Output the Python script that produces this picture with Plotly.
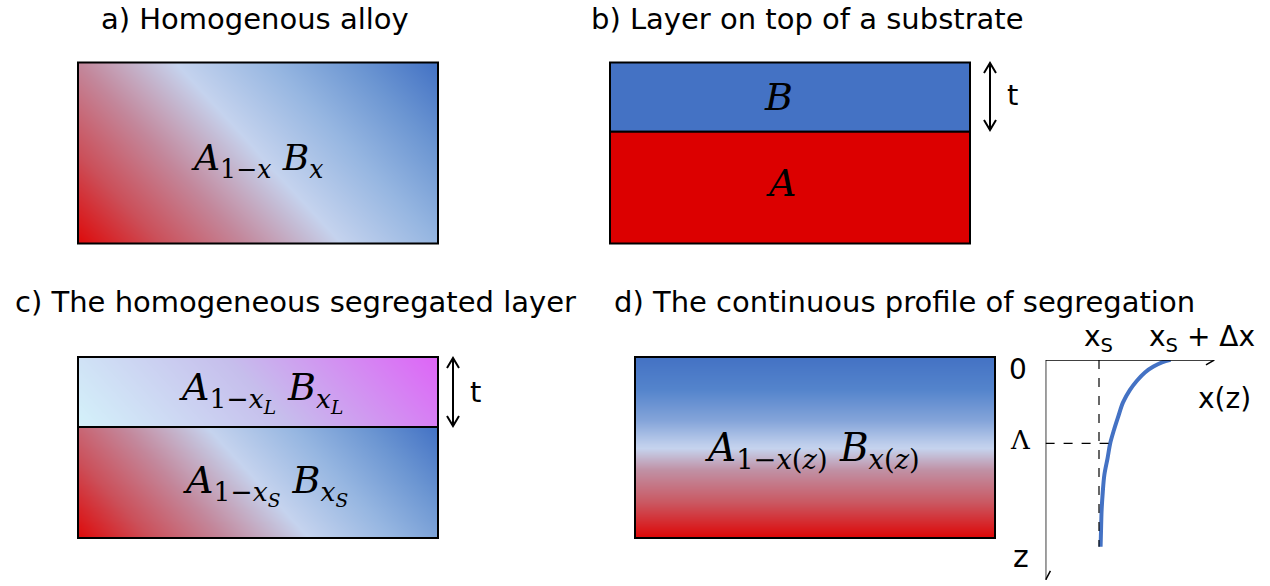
import numpy as np
import plotly.graph_objects as go

W, H = 1270, 586

# ---------------- text content ----------------
titles = ["a) Homogenous alloy",
          "b) Layer on top of a substrate",
          "c) The homogeneous segregated layer",
          "d) The continuous profile of segregation"]
title_pos = [(255, 19), (807, 19), (295, 302), (904, 302)]

# ---------------- segregation profile (x in units of x_S, z in units of Λ) ----------------
profile_x = [2.34, 2.18, 2.02, 1.86, 1.71, 1.58, 1.45, 1.36, 1.28, 1.21, 1.16, 1.10, 1.07, 1.05, 1.04, 1.03]
profile_z = [0.00, 0.03, 0.08, 0.15, 0.25, 0.36, 0.51, 0.68, 0.84, 1.00, 1.18, 1.38, 1.59, 1.79, 1.99, 2.24]
x_s = 1.0
lam = 1.0
x_axis_max = 3.163
z_axis_max = 2.639

# ---------------- colours ----------------
BLUE = "rgb(68,114,196)"
RED = "rgb(220,0,0)"
alloy_scale = [[0.0, "rgb(222,10,10)"], [0.158, "rgb(203,80,90)"], [0.316, "rgb(195,135,155)"],
               [0.5, "rgb(197,211,238)"], [0.684, "rgb(150,182,225)"], [0.842, "rgb(108,150,210)"],
               [1.0, "rgb(66,113,196)"]]
layer_scale = [[0.0, "rgb(212,242,250)"], [0.5, "rgb(198,190,236)"], [1.0, "rgb(222,100,247)"]]
profile_scale = [[0.0, "rgb(68,114,196)"], [0.18, "rgb(84,132,204)"], [0.35, "rgb(132,164,217)"],
                 [0.5, "rgb(197,211,238)"], [0.62, "rgb(192,145,165)"], [0.8, "rgb(202,88,98)"],
                 [1.0, "rgb(222,5,5)"]]

fig = go.Figure()

GRAD_DIR = (1.0, 0.92)  # gradient runs from lower-left to upper-right


def diag_gradient(x0, x1, y0, y1, scale, n=60):
    xe = np.linspace(x0, x1, n + 1)
    ye = np.linspace(y0, y1, n // 2 + 1)
    xc = 0.5 * (xe[:-1] + xe[1:])
    yc = 0.5 * (ye[:-1] + ye[1:])
    X, Y = np.meshgrid(xc, yc)
    cx, cy = (x0 + x1) / 2, (y0 + y1) / 2
    dx, dy = GRAD_DIR
    v = (X - cx) * dx - (Y - cy) * dy
    vmax = (x1 - cx) * dx + (y1 - cy) * dy
    t = 0.5 + v / (2 * vmax)
    fig.add_trace(go.Heatmap(x=xe, y=ye, z=t, zmin=0, zmax=1, colorscale=scale, zsmooth="best",
                             showscale=False, hoverinfo="skip", xaxis="x", yaxis="y"))


def vert_gradient(x0, x1, y0, y1, scale, n=60):
    xe = np.array([x0, x1])
    ye = np.linspace(y0, y1, n + 1)
    yc = 0.5 * (ye[:-1] + ye[1:])
    t = ((yc - y0) / (y1 - y0))[:, None]
    fig.add_trace(go.Heatmap(x=xe, y=ye, z=t, zmin=0, zmax=1, colorscale=scale, zsmooth="best",
                             showscale=False, hoverinfo="skip", xaxis="x", yaxis="y"))


# panel boxes (pixel frame)
A_BOX = (78, 438, 62.5, 243.5)
B_BOX = (610, 970, 62.5, 243.5)
B_SPLIT = 131.7
C_BOX = (78, 438, 357, 538)
C_SPLIT = 427
D_BOX = (635, 995, 357, 538)

diag_gradient(*A_BOX, alloy_scale)
diag_gradient(C_BOX[0], C_BOX[1], C_SPLIT, C_BOX[3], alloy_scale)
diag_gradient(C_BOX[0], C_BOX[1], C_BOX[2], C_SPLIT, layer_scale)
vert_gradient(*D_BOX, profile_scale)

shapes = []
line_k = dict(color="black", width=2)
shapes.append(dict(type="rect", xref="x", yref="y", x0=B_BOX[0], x1=B_BOX[1], y0=B_BOX[2], y1=B_SPLIT,
                   fillcolor=BLUE, line=line_k))
shapes.append(dict(type="rect", xref="x", yref="y", x0=B_BOX[0], x1=B_BOX[1], y0=B_SPLIT, y1=B_BOX[3],
                   fillcolor=RED, line=line_k))
for (x0, x1, y0, y1) in [A_BOX, (C_BOX[0], C_BOX[1], C_BOX[2], C_SPLIT),
                         (C_BOX[0], C_BOX[1], C_SPLIT, C_BOX[3]), D_BOX]:
    shapes.append(dict(type="rect", xref="x", yref="y", x0=x0, x1=x1, y0=y0, y1=y1, line=line_k))


def double_arrow(x, y0, y1, hw=6, hl=10):
    p = (f"M{x},{y0} L{x},{y1} M{x - hw},{y0 + hl} L{x},{y0} L{x + hw},{y0 + hl} "
         f"M{x - hw},{y1 - hl} L{x},{y1} L{x + hw},{y1 - hl}")
    shapes.append(dict(type="path", xref="x", yref="y", path=p, line=dict(color="black", width=2)))


double_arrow(990, 63, 130)
double_arrow(453, 358, 426)

# profile axes (x2/y2 frame)
ax_line = dict(color="black", width=1.5)
shapes.append(dict(type="line", xref="x2", yref="y2", x0=0, x1=x_axis_max, y0=0, y1=0, line=ax_line))
shapes.append(dict(type="line", xref="x2", yref="y2", x0=0, x1=0, y0=0, y1=z_axis_max, line=ax_line))
shapes.append(dict(type="path", xref="x2", yref="y2",
                   path=f"M{x_axis_max - 0.16},{-0.06} L{x_axis_max},0 L{x_axis_max - 0.16},{0.06}",
                   line=ax_line))
shapes.append(dict(type="path", xref="x2", yref="y2",
                   path=f"M-0.09,{z_axis_max - 0.11} L0,{z_axis_max} L0.09,{z_axis_max - 0.11}",
                   line=ax_line))
dash_line = dict(color="black", width=1.2, dash="dash")
shapes.append(dict(type="line", xref="x2", yref="y2", x0=x_s, x1=x_s, y0=0, y1=profile_z[-1], line=dash_line))
shapes.append(dict(type="line", xref="x2", yref="y2", x0=0, x1=1.23, y0=lam, y1=lam, line=dash_line))

fig.add_trace(go.Scatter(x=profile_x, y=profile_z, mode="lines", xaxis="x2", yaxis="y2",
                         line=dict(color=BLUE, width=4, shape="spline"), hoverinfo="skip",
                         showlegend=False))

SANS = "DejaVu Sans"
SERIF = "DejaVu Serif"
annotations = []
for txt, (x, y) in zip(titles, title_pos):
    annotations.append(dict(text=txt, x=x, y=y, xref="x", yref="y", showarrow=False,
                            font=dict(family=SANS, size=29, color="black"), xanchor="center", yanchor="middle"))

for txt, (x, y) in [("t", (1012, 95)), ("t", (475, 392))]:
    annotations.append(dict(text=txt, x=x, y=y, xref="x", yref="y", showarrow=False,
                            font=dict(family=SANS, size=29, color="black")))

math_labels = [
    ("<i>A</i><sub>1−<i>x</i></sub> <i>B</i><sub><i>x</i></sub>", 257, 160, 36),
    ("<i>B</i>", 778, 97, 38),
    ("<i>A</i>", 781, 183, 38),
    ("<i>A</i><sub>1−<i>x<sub>L</sub></i></sub> <i>B</i><sub><i>x<sub>L</sub></i></sub>", 261, 391, 38),
    ("<i>A</i><sub>1−<i>x<sub>S</sub></i></sub> <i>B</i><sub><i>x<sub>S</sub></i></sub>", 265, 484, 38),
    ("<i>A</i><sub>1−<i>x</i>(<i>z</i>)</sub> <i>B</i><sub><i>x</i>(<i>z</i>)</sub>", 812, 450, 39),
]
for txt, x, y, s in math_labels:
    annotations.append(dict(text=txt, x=x, y=y, xref="x", yref="y", showarrow=False,
                            font=dict(family=SERIF, size=s, color="black")))

profile_labels = [
    ("x<sub>S</sub>", 1098, 338, SANS, 28),
    ("x<sub>S</sub> + Δx", 1202, 338, SANS, 28),
    ("0", 1018, 369, SANS, 28),
    ("Λ", 1020, 440, SERIF, 26),
    ("z", 1021, 556, SANS, 30),
    ("x(z)", 1224, 398, SANS, 28),
]
for txt, x, y, fam, s in profile_labels:
    annotations.append(dict(text=txt, x=x, y=y, xref="x", yref="y", showarrow=False,
                            font=dict(family=fam, size=s, color="black")))

ox, oy = 1045.6, 359.9  # pixel position of the profile origin
ux, uz = 53.4, 83.4      # pixels per unit
fig.update_layout(
    width=W, height=H, margin=dict(l=0, r=0, t=0, b=0),
    paper_bgcolor="white", plot_bgcolor="white", showlegend=False,
    xaxis=dict(range=[0, W], visible=False, domain=[0, 1], fixedrange=True),
    yaxis=dict(range=[H, 0], visible=False, domain=[0, 1], fixedrange=True),
    xaxis2=dict(range=[0, x_axis_max], visible=False, anchor="y2",
                domain=[ox / W, (ox + x_axis_max * ux) / W]),
    yaxis2=dict(range=[z_axis_max, 0], visible=False, anchor="x2",
                domain=[(H - (oy + z_axis_max * uz)) / H, (H - oy) / H]),
    shapes=shapes, annotations=annotations,
)

fig.write_html("out.html", config={"displayModeBar": False},
               post_script="document.body.style.margin='0';document.body.style.padding='0';")
